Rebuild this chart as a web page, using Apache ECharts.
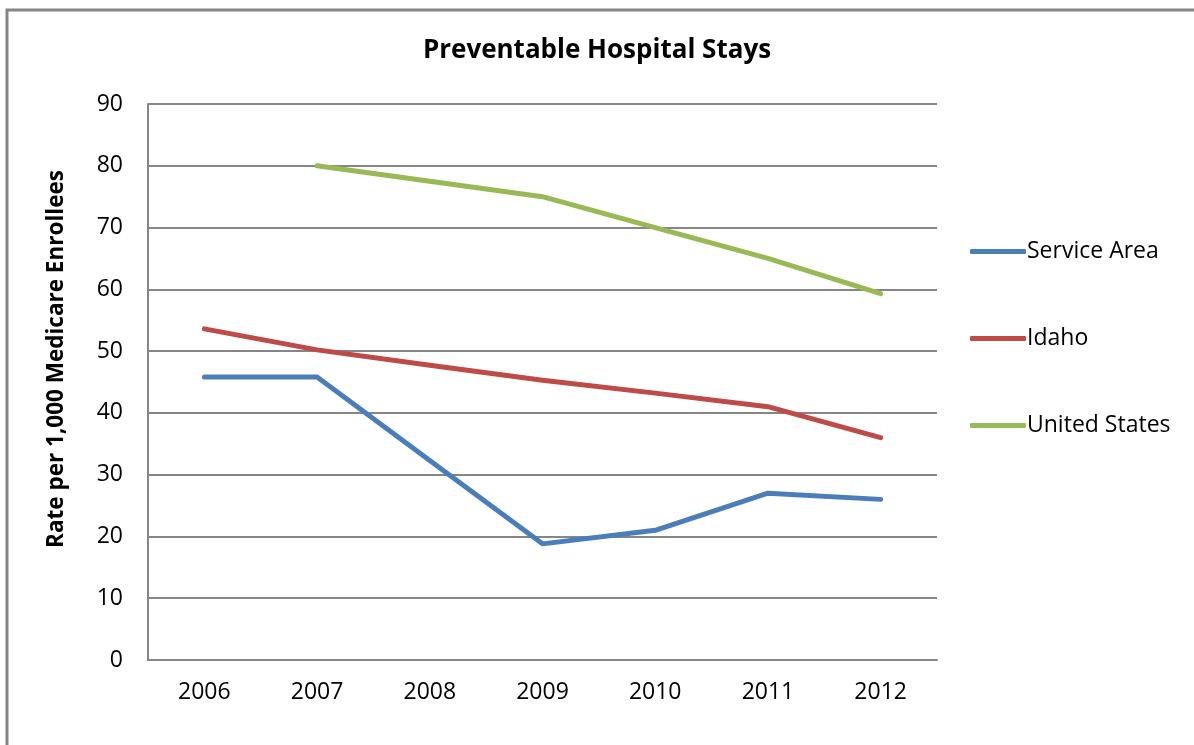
<!DOCTYPE html>
<html>
<head>
<meta charset="utf-8">
<script src="https://cdn.jsdelivr.net/npm/echarts@6/dist/echarts.min.js"></script>
<style>
html,body{margin:0;padding:0;background:#fff;}
#chart{width:1194px;height:745px;}
</style>
</head>
<body>
<div id="chart"></div>
<script>
const years = ['2006','2007','2008','2009','2010','2011','2012'];
const serviceArea = [45.8, 45.8, 32.3, 18.8, 21.0, 27.0, 26.0];
const idaho = [53.6, 50.2, 47.7, 45.3, 43.2, 41.0, 36.0];
const unitedStates = [null, 80.0, 77.5, 75.0, 70.0, 65.0, 59.3];
const seriesNames = ['Service Area', 'Idaho', 'United States'];
const colors = ['#4A7EBB', '#BE4B48', '#98B954'];
const yTicks = [0, 10, 20, 30, 40, 50, 60, 70, 80, 90];
const yTitle = 'Rate per 1,000 Medicare Enrollees';

const font = '"Open Sans", Lato, sans-serif';
const chart = echarts.init(document.getElementById('chart'));
const seriesData = [serviceArea, idaho, unitedStates];
const legendTops = [235, 322, 409];

chart.setOption({
  animation: false,
  title: {
    text: 'Preventable Hospital Stays',
    left: 'center',
    top: 33,
    textStyle: {fontFamily: font, fontSize: 26, fontWeight: 'bold', color: '#000'}
  },
  graphic: [{
    type: 'polyline',
    shape: {points: [[7, 745], [7, 10], [1194, 10]]},
    style: {stroke: '#868686', lineWidth: 3, fill: null}
  }, {
    type: 'text',
    x: 57,
    y: 359,
    rotation: Math.PI / 2,
    style: {
      text: yTitle,
      fontFamily: font,
      fontSize: 22.5,
      fontWeight: 'bold',
      fill: '#000',
      align: 'center',
      verticalAlign: 'middle'
    }
  }],
  legend: seriesNames.map((n, i) => ({
    data: [n],
    left: 965,
    top: legendTops[i],
    orient: 'vertical',
    icon: 'roundRect',
    itemWidth: 56,
    itemHeight: 5,
    textStyle: {fontFamily: font, fontSize: 23, color: '#000', padding: [0, 0, 0, -4]}
  })),
  grid: {left: 148, top: 104, right: 257, bottom: 85},
  xAxis: {
    type: 'category',
    data: years,
    boundaryGap: true,
    axisLine: {lineStyle: {color: '#868686', width: 2}},
    axisTick: {show: false},
    axisLabel: {fontFamily: font, fontSize: 23, color: '#000', margin: 21}
  },
  yAxis: {
    type: 'value',
    min: yTicks[0],
    max: yTicks[yTicks.length - 1],
    interval: 10,
    axisLine: {show: true, lineStyle: {color: '#868686', width: 2}},
    axisTick: {show: false},
    splitLine: {lineStyle: {color: '#868686', width: 2}},
    axisLabel: {fontFamily: font, fontSize: 23, color: '#000', margin: 25}
  },
  series: seriesNames.map((n, i) => ({
    name: n,
    type: 'line',
    data: seriesData[i],
    showSymbol: false,
    symbol: 'none',
    lineStyle: {color: colors[i], width: 5, cap: 'round', join: 'round'},
    itemStyle: {color: colors[i]}
  }))
});
</script>
</body>
</html>
